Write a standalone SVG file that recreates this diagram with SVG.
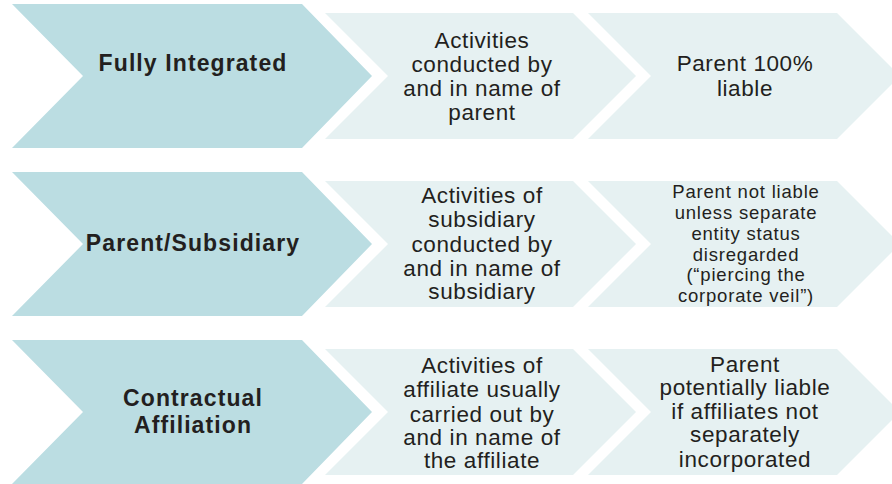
<svg xmlns="http://www.w3.org/2000/svg" width="892" height="484" viewBox="0 0 892 484">
<defs>
<style>
.dark{fill:#BBDDE2;}
.light{fill:#E6F1F2;}
text{font-family:"Liberation Sans",Arial,sans-serif;fill:#231F20;text-anchor:middle;}
.h{font-weight:bold;font-size:23px;letter-spacing:1.1px;}
.t{font-size:22.5px;letter-spacing:0.6px;}
.s{font-size:18.5px;letter-spacing:0.8px;}
</style>
<polygon id="big" points="12,4 302,4 372,76 302,148 12,148 83,76"/>
<polygon id="mid" points="325,13 573,13 636,76 573,139 325,139 388,76"/>
<polygon id="end" points="588,13 837,13 900,76 837,139 588,139 651,76"/>
</defs>
<rect width="892" height="484" fill="#FFFFFF"/>
<g id="connectors"></g>

<g id="row1-type"><use href="#big" class="dark"/><text class="h" x="193" y="71">Fully Integrated</text></g>
<g id="row1-activities"><use href="#mid" class="light"/><text class="t" x="482"><tspan x="482" y="47.5">Activities</tspan><tspan x="482" y="71.5">conducted by</tspan><tspan x="482" y="95.5">and in name of</tspan><tspan x="482" y="119.5">parent</tspan></text></g>
<g id="row1-liability"><use href="#end" class="light"/><text class="t" x="745"><tspan x="745" y="71">Parent 100%</tspan><tspan x="745" y="95.5">liable</tspan></text></g>

<g id="row2-type" transform="translate(0,168)"><use href="#big" class="dark"/><text class="h" x="193" y="83">Parent/Subsidiary</text></g>
<g id="row2-activities" transform="translate(0,168)"><use href="#mid" class="light"/><text class="t" x="482"><tspan x="482" y="35.3">Activities of</tspan><tspan x="482" y="59">subsidiary</tspan><tspan x="482" y="83.5">conducted by</tspan><tspan x="482" y="108">and in name of</tspan><tspan x="482" y="131">subsidiary</tspan></text></g>
<g id="row2-liability" transform="translate(0,168)"><use href="#end" class="light"/><text class="s" x="746"><tspan x="746" y="29.7">Parent not liable</tspan><tspan x="746" y="51.3">unless separate</tspan><tspan x="746" y="72">entity status</tspan><tspan x="746" y="92.7">disregarded</tspan><tspan x="746" y="113">(“piercing the</tspan><tspan x="746" y="133.7">corporate veil”)</tspan></text></g>

<g id="row3-type" transform="translate(0,336)"><use href="#big" class="dark"/><text class="h" x="193"><tspan x="193" y="70">Contractual</tspan><tspan x="193" y="97">Affiliation</tspan></text></g>
<g id="row3-activities" transform="translate(0,336)"><use href="#mid" class="light"/><text class="t" x="482"><tspan x="482" y="37.3">Activities of</tspan><tspan x="482" y="60.7">affiliate usually</tspan><tspan x="482" y="85.7">carried out by</tspan><tspan x="482" y="109">and in name of</tspan><tspan x="482" y="132.3">the affiliate</tspan></text></g>
<g id="row3-liability" transform="translate(0,336)"><use href="#end" class="light"/><text class="t" x="745"><tspan x="745" y="35.7">Parent</tspan><tspan x="745" y="58.5">potentially liable</tspan><tspan x="745" y="83">if affiliates not</tspan><tspan x="745" y="105.7">separately</tspan><tspan x="745" y="130.7">incorporated</tspan></text></g>
</svg>
